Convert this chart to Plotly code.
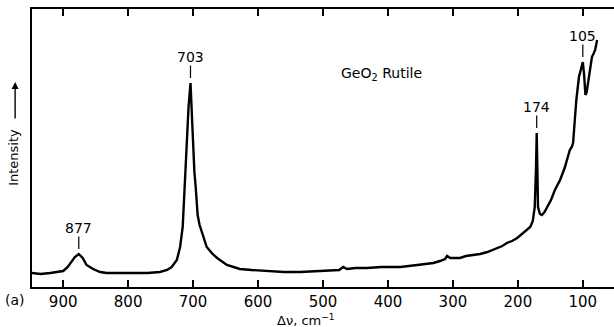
import plotly.graph_objects as go

# Raman shift (cm^-1) and relative intensity
wavenumber = [948, 935, 920, 905, 900, 893, 887, 882, 876, 870, 864, 854, 843, 833, 815, 793, 770,
              751, 740, 733, 725, 720, 716, 713, 710, 707, 704, 702, 700, 698, 696, 693, 690, 686,
              679, 670, 663, 648, 628, 610, 586, 560, 535, 510, 489, 475, 469, 463, 450, 432, 410,
              381, 355, 330, 320, 312, 309, 304, 289, 280, 269, 258, 247, 240, 232, 224, 217, 209,
              201, 192, 186, 181, 177, 174, 172, 171, 170, 169, 166, 163, 159, 155, 149, 143, 135,
              128, 124, 120, 117, 115, 112, 110, 106, 103, 100, 98, 96, 94, 92, 89, 86, 83, 81, 78]
intensity = [14, 13, 14, 15, 16, 20, 25, 30, 33, 29, 22, 18, 15, 14, 14, 14, 14,
             15, 17, 20, 27, 40, 60, 100, 145, 180, 204, 177, 137, 115, 100, 72, 62, 54,
             40, 33, 29, 22, 18, 17, 16, 15, 15, 16, 17, 17, 20, 18, 19, 19, 20,
             20, 22, 24, 26, 28, 31, 29, 29, 31, 32, 33, 35, 37, 39, 41, 44, 46,
             49, 54, 57, 60, 66, 80, 120, 154, 120, 80, 73, 72, 75, 80, 87, 97, 107,
             119, 127, 137, 140, 144, 170, 187, 210, 218, 225, 212, 192, 195, 204, 218, 230, 234, 237, 247]

peak_wn = [876, 704, 171, 100]
peak_labels = ["877", "703", "174", "105"]
x_ticks = [900, 800, 700, 600, 500, 400, 300, 200, 100]

lookup = dict(zip(wavenumber, intensity))
FONT = "DejaVu Sans"

fig = go.Figure()
fig.add_trace(go.Scatter(x=wavenumber, y=intensity, mode="lines",
                         line=dict(color="black", width=2.4), showlegend=False,
                         hoverinfo="skip"))

annotations = []
for w, lab in zip(peak_wn, peak_labels):
    annotations.append(dict(x=w, y=lookup[w], xref="x", yref="y", text=lab,
                            showarrow=True, arrowhead=0, arrowwidth=1.2, arrowcolor="black",
                            ax=0, ay=-26, standoff=5, borderpad=0,
                            font=dict(family=FONT, size=14, color="black")))

annotations += [
    dict(x=0.601, y=0.806, xref="paper", yref="paper", showarrow=False, xanchor="center",
         text="GeO<sub>2</sub> Rutile", font=dict(family=FONT, size=14, color="black")),
    dict(x=0.471, y=-0.118, xref="paper", yref="paper", showarrow=False, yanchor="middle",
         xanchor="center", borderpad=0,
         text="Δν, cm<sup>−1</sup>", font=dict(family=FONT, size=13, color="black")),
    dict(x=-0.029, y=-0.047, xref="paper", yref="paper", showarrow=False, yanchor="middle",
         xanchor="center",
         text="(a)", font=dict(family=FONT, size=14, color="black")),
    dict(x=-0.031, y=0.468, xref="paper", yref="paper", showarrow=False, textangle=-90,
         xanchor="center", yanchor="middle",
         text="Intensity", font=dict(family=FONT, size=13, color="black")),
    dict(x=-0.029, y=0.737, xref="paper", yref="paper", showarrow=True, text="",
         ax=0, ay=38, arrowhead=2, arrowsize=1, arrowwidth=1.4, arrowcolor="black"),
]

fig.update_layout(
    width=614, height=327,
    margin=dict(l=32, r=0, t=9, b=40),
    paper_bgcolor="white", plot_bgcolor="white",
    font=dict(family=FONT, size=14, color="black"),
    annotations=annotations,
    xaxis=dict(range=[948, 52], tickvals=x_ticks, ticktext=[str(v) for v in x_ticks],
               ticks="inside", ticklen=7, tickwidth=1.5, tickcolor="black",
               showline=True, linecolor="black", linewidth=2, mirror="ticks",
               showgrid=False, zeroline=False, tickfont=dict(family=FONT, size=15)),
    yaxis=dict(range=[0, 278], showticklabels=False, ticks="",
               showline=True, linecolor="black", linewidth=1.5, mirror=False,
               showgrid=False, zeroline=False),
)

fig.write_html("out.html")
